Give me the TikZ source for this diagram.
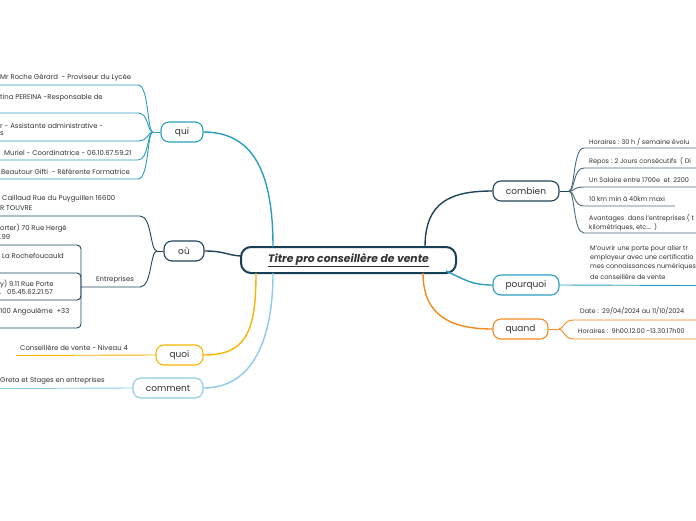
\documentclass[tikz,border=0pt]{standalone}
\usepackage{fontspec}
\setmainfont{Poppins}
\definecolor{navy}{HTML}{173F55}
\definecolor{tealc}{HTML}{2C9DC2}
\definecolor{slate}{HTML}{1F4459}
\definecolor{slatel}{HTML}{4A6A7E}
\definecolor{gold}{HTML}{F7B500}
\definecolor{sky}{HTML}{8DCBE8}
\definecolor{orng}{HTML}{F38B20}
\definecolor{txt}{HTML}{333333}
\tikzset{
  mainnode/.style={draw, rounded corners=8pt, minimum height=20pt, line width=1.1pt, inner sep=0pt, text=txt, font=\fontsize{9}{10}\selectfont},
  leaf/.style={anchor=west, inner sep=0pt, text=txt, font=\fontsize{6.9}{8}\selectfont},
  leafs/.style={anchor=west, inner sep=0pt, text=txt, font=\fontsize{6.5}{8}\selectfont},
  conn/.style={line width=1.4pt},
  sub/.style={line width=0.9pt},
}
\begin{document}
\begin{tikzpicture}[x=1pt,y=-1pt]
\useasboundingbox (0,0) rectangle (696,520);
\clip (0,0) rectangle (696,520);
\fill[white] (0,0) rectangle (696,520);

% central node
\node[draw=navy, line width=2pt, rounded corners=10pt, minimum width=215pt, minimum height=26pt, inner sep=0pt, text=txt, font=\fontsize{10.8}{12}\selectfont\bfseries\itshape] (c) at (348.5,260) {\underline{Titre pro conseillère de vente}};

% main nodes
\node[mainnode, draw=tealc, minimum width=42pt] (qui) at (182,132) {qui};
\node[mainnode, draw=slate, minimum width=40pt] (ou) at (184,251) {où};
\node[mainnode, draw=gold, minimum width=47pt] (quoi) at (179.5,355) {quoi};
\node[mainnode, draw=sky, minimum width=70pt] (comment) at (168,388) {comment};
\node[mainnode, draw=slate, minimum width=66pt] (combien) at (526,191) {combien};
\node[mainnode, draw=tealc, minimum width=66pt] (pourquoi) at (526,285) {pourquoi};
\node[mainnode, draw=orng, minimum width=55pt] (quand) at (520.5,329) {quand};

% main connectors
\coordinate (cqui) at (273,247);
\coordinate (cou) at (241,256);
\coordinate (cquoi) at (256,273);
\coordinate (ccom) at (273,273);
\coordinate (ccomb) at (425,247);
\coordinate (cpq) at (446,271);
\coordinate (cqd) at (423,273);
\draw[conn, tealc] (qui.east) .. controls +(55,0) and +(0,-65) .. (cqui);
\draw[conn, slate] (ou.east) .. controls +(20,0) and +(-15,-1) .. (cou);
\draw[conn, gold] (quoi.east) .. controls +(42,0) and +(0,60) .. (cquoi);
\draw[conn, sky] (comment.east) .. controls +(50,0) and +(0,65) .. (ccom);
\draw[conn, slate] (combien.west) .. controls +(-42,0) and +(0,-45) .. (ccomb);
\draw[conn, tealc] (pourquoi.west) .. controls +(-22,0) and +(18,8) .. (cpq);
\draw[conn, orng] (quand.west) .. controls +(-45,0) and +(0,40) .. (cqd);

% ---------- qui children
\coordinate (jq) at (153,132);
\draw[sub, tealc] (qui.west) -- (jq);
\foreach \yy in {85,113,141,160,179}{
  \draw[sub, tealc] (jq) .. controls (147,132) and (149,\yy) .. (138,\yy) -- (0,\yy);
}
\node[leaf] (q1) at (0,78) {Mr Roche Gérard\ \ - Proviseur du Lycée};
\node[leaf] (q2) at (0,98) {tina PEREINA -Responsable de};
\node[leaf] (q3a) at (0,126) {r - Assistante administrative -};
\node[leaf] (q3b) at (0,134) {s};
\node[leaf] (q4) at (4,153) {Muriel - Coordinatrice - 06.10.67.59.21};
\node[leaf] (q5) at (1,172) {Beautour Gifti\ \ - Référente Formatrice};

% ---------- où children
\coordinate (jo) at (157,251);
\draw[sub, slate] (ou.west) -- (jo);
\draw[sub, slate] (jo) .. controls (150,251) and (152,216) .. (140,216) -- (0,216);
\coordinate (je) at (81,287);
\draw[sub, slate] (jo) .. controls (150,251) and (152,287) .. (140,287) -- (je);
\node[leaf] (o1a) at (2,199) {Caillaud Rue du Puyguillen 16600};
\node[leaf] (o1b) at (0,208) {R TOUVRE};
\node[leaf] (ent) at (96,280) {Entreprises};
\foreach \yy in {245,273,300,328}{
  \draw[sub, slate, rounded corners=4pt] (je) |- (0,\yy);
}
\node[leaf] (e1a) at (0,228) {orter) 70 Rue Hergé};
\node[leaf] (e1b) at (0,237) {.99};
\node[leaf] (e2) at (2,256) {La Rochefoucauld};
\node[leaf] (e3a) at (0,284) {y) 9.11 Rue Porte};
\node[leaf] (e3b) at (0,292) {.\ \ \ 05.45.62.21.57};
\node[leaf] (e4) at (0,312) {100 Angoulême\ \ +33};

% ---------- quoi / comment children
\coordinate (qe) at (16,355.5);
\draw[sub, gold] (quoi.west) -- (qe);
\node[leaf] (quoi1) at (20,348) {Conseillère de vente - Niveau 4};
\coordinate (ce) at (0,388.5);
\draw[sub, sky] (comment.west) -- (ce);
\node[leaf] (com1) at (0,381) {Greta et Stages en entreprises};

% ---------- combien children
\coordinate (jc) at (569,191);
\draw[sub, slate] (combien.east) -- (jc);
\foreach \yy/\xe in {148/696,168/696,187/696,206/675,233/696}{
  \draw[sub, slatel] (jc) .. controls (575,191) and (573,\yy) .. (584,\yy) -- (\xe,\yy);
}
\node[leafs] (b1) at (589,142) {Horaires : 30 h / semaine évolu};
\node[leafs] (b2) at (589,161) {Repos : 2 Jours consécutifs\ \ ( Di};
\node[leafs] (b3) at (589,180) {Un Salaire entre 1700e\ \ et\ \ 2200};
\node[leafs] (b4) at (589,198.5) {10 km min à 40km maxi};
\node[leafs] (b5a) at (589,218) {Avantages\ \ dans l'entreprises ( t};
\node[leafs] (b5b) at (589,227) {kilométriques, etc.... )};

% ---------- pourquoi child
\coordinate (pe) at (696,285.5);
\draw[sub, tealc] (pourquoi.east) -- (pe);
\node[leafs] (p1) at (590,249) {M'ouvrir une porte pour aller tr};
\node[leafs] (p2) at (590,258) {employeur avec une certificatio};
\node[leafs] (p3) at (590,267) {mes connaissances numériques};
\node[leafs] (p4) at (590,277) {de conseillère de vente};

% ---------- quand children
\coordinate (jd) at (559,329);
\draw[sub, orng] (quand.east) -- (jd);
\foreach \yy in {320,339}{
  \draw[sub, orng] (jd) .. controls (564,329) and (563,\yy) .. (574,\yy) -- (696,\yy);
}
\node[leafs] (d1) at (580,311) {Date :\ \ 29/04/2024 au 11/10/2024};
\node[leafs] (d2) at (578,331) {Horaires :\ \ 9h00.12.00 -13.30.17h00};
\end{tikzpicture}
\end{document}
